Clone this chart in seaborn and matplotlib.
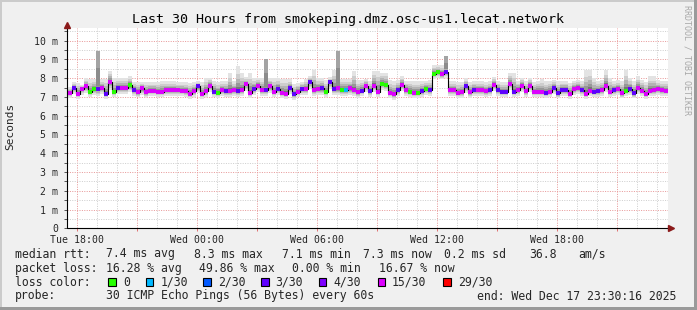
import numpy as np
import pandas as pd
import matplotlib
matplotlib.use("Agg")
import matplotlib.pyplot as plt
from matplotlib.patches import Rectangle
import seaborn as sns

# ---------------- data ----------------
title = "Last 30 Hours from smokeping.dmz.osc-us1.lecat.network"
start_hour = 17 + 30 / 60 + 16 / 3600          # Tue 17:30:16 (hours since Tue 00:00)
span_hours = 30
step_hours = 0.2                                # 12-minute consolidated steps
tick_hours = [18, 24, 30, 36, 42]
tick_labels = ["Tue 18:00", "Wed 00:00", "Wed 06:00", "Wed 12:00", "Wed 18:00"]
y_ticks = [0, 1, 2, 3, 4, 5, 6, 7, 8, 9, 10]
y_tick_labels = ["0", "1 m", "2 m", "3 m", "4 m", "5 m", "6 m", "7 m", "8 m", "9 m", "10 m"]

median_ms = [
    7.22, 7.48, 7.18, 7.40, 7.56, 7.27, 7.44, 7.42, 7.48, 7.18,
    7.80, 7.27, 7.47, 7.46, 7.47, 7.62, 7.38, 7.26, 7.46, 7.26,
    7.34, 7.33, 7.28, 7.27, 7.35, 7.35, 7.35, 7.35, 7.34, 7.30,
    7.18, 7.30, 7.57, 7.18, 7.30, 7.60, 7.28, 7.21, 7.36, 7.30,
    7.30, 7.36, 7.30, 7.36, 7.70, 7.21, 7.43, 7.60, 7.39, 7.39,
    7.57, 7.27, 7.43, 7.23, 7.18, 7.48, 7.14, 7.27, 7.43, 7.43,
    7.80, 7.36, 7.43, 7.46, 7.27, 7.80, 7.43, 7.46, 7.39, 7.39,
    7.46, 7.39, 7.25, 7.34, 7.60, 7.30, 7.60, 7.27, 7.71, 7.63,
    7.21, 7.14, 7.36, 7.66, 7.39, 7.29, 7.21, 7.21, 7.30, 7.43,
    7.39, 8.25, 8.32, 8.21, 8.34, 7.36, 7.36, 7.21, 7.25, 7.57,
    7.25, 7.39, 7.36, 7.36, 7.30, 7.36, 7.66, 7.39, 7.27, 7.27,
    7.71, 7.27, 7.39, 7.60, 7.30, 7.60, 7.27, 7.27, 7.27, 7.21,
    7.27, 7.48, 7.20, 7.39, 7.39, 7.18, 7.43, 7.48, 7.36, 7.18,
    7.34, 7.27, 7.30, 7.39, 7.60, 7.27, 7.36, 7.43, 7.20, 7.34,
    7.43, 7.20, 7.48, 7.34, 7.18, 7.34, 7.36, 7.43, 7.36, 7.34,
]

smoke_lo_ms = [
    6.95, 7.15, 6.90, 7.10, 7.20, 7.00, 7.10, 7.05, 7.15, 6.90,
    7.35, 7.00, 7.15, 7.15, 7.15, 7.25, 7.05, 7.00, 7.10, 7.00,
    7.05, 7.05, 7.00, 7.00, 7.05, 7.05, 7.05, 7.05, 7.05, 7.00,
    6.90, 7.00, 7.20, 6.90, 7.00, 7.25, 7.00, 6.95, 7.05, 7.00,
    7.00, 7.05, 7.00, 7.05, 7.30, 6.95, 7.10, 7.25, 7.05, 7.05,
    7.20, 7.00, 7.10, 6.95, 6.90, 7.15, 6.85, 7.00, 7.10, 7.10,
    7.40, 7.05, 7.10, 7.10, 7.00, 7.40, 7.10, 7.10, 7.05, 7.05,
    7.10, 7.05, 6.95, 7.05, 7.25, 7.00, 7.25, 7.00, 7.35, 7.30,
    6.95, 6.85, 7.05, 7.30, 7.05, 7.00, 6.95, 6.95, 7.00, 7.10,
    7.05, 7.95, 8.00, 7.95, 8.00, 7.05, 7.05, 6.95, 6.95, 7.20,
    6.95, 7.05, 7.05, 7.05, 7.00, 7.05, 7.30, 7.05, 7.00, 7.00,
    7.35, 7.00, 7.05, 7.25, 7.00, 7.25, 7.00, 7.00, 7.00, 6.95,
    7.00, 7.15, 6.95, 7.05, 7.05, 6.90, 7.10, 7.15, 7.05, 6.90,
    7.05, 7.00, 7.00, 7.05, 7.25, 7.00, 7.05, 7.10, 6.95, 7.05,
    7.10, 6.95, 7.15, 7.05, 6.90, 7.05, 7.05, 7.10, 7.05, 7.05,
]

smoke_hi_ms = [
    7.55, 7.80, 7.75, 7.65, 8.00, 7.95, 7.95, 7.95, 7.95, 7.95,
    8.40, 8.00, 8.00, 8.00, 8.00, 8.10, 7.80, 7.80, 7.80, 7.80,
    7.80, 7.80, 7.80, 7.85, 7.85, 7.85, 7.85, 7.80, 7.80, 7.80,
    7.75, 7.80, 7.85, 7.80, 8.00, 8.00, 7.85, 7.80, 7.85, 7.85,
    8.30, 7.85, 8.65, 8.30, 8.05, 8.30, 8.00, 8.00, 8.00, 8.00,
    8.00, 8.00, 8.00, 7.95, 7.95, 7.95, 7.70, 7.75, 7.80, 7.95,
    8.10, 8.45, 8.00, 8.00, 7.90, 8.05, 8.45, 7.95, 7.95, 7.95,
    7.95, 8.40, 7.90, 7.90, 7.95, 7.85, 8.40, 8.40, 8.30, 8.30,
    7.90, 7.85, 7.90, 8.10, 7.85, 7.85, 7.85, 7.85, 7.85, 7.85,
    7.90, 8.70, 8.70, 8.70, 8.60, 7.85, 7.85, 7.80, 7.80, 8.00,
    7.80, 7.85, 7.85, 7.85, 7.80, 7.85, 8.05, 7.85, 7.80, 7.80,
    8.30, 8.30, 7.85, 8.00, 7.85, 8.00, 7.80, 7.85, 7.95, 7.85,
    7.85, 7.90, 7.85, 7.85, 7.85, 7.75, 7.85, 7.90, 7.85, 8.45,
    8.45, 8.00, 7.85, 7.90, 8.45, 8.00, 7.85, 7.90, 7.85, 8.45,
    8.00, 7.85, 8.10, 7.90, 7.80, 8.10, 8.10, 7.90, 7.85, 7.85,
]

spike_steps = [7, 49, 67, 94]
spike_tops = [9.45, 9.00, 9.45, 9.20]

loss_codes = ("mpmmmggpmp" "mgpmmgpmmm" "mmmmmmmmmm" "mmpmmmpgmp" "mmpmmmpmmp"
              "mmpmmppmpm" "pmmpgppmgc" "mmmpmpmmgg" "mmpmmgmgpg" "pggmpmmmmp"
              "mpmmmpmppp" "mpmmmmmmmp" "mppppmmmpm" "mppmmmpmmg" "ppmmmmmmmm")

legend_labels = ["0", "1/30", "2/30", "3/30", "4/30", "15/30", "29/30"]
legend_colors = ["#26ff00", "#00b8ff", "#0059ff", "#5e00ff", "#7e00ff", "#dd00ff", "#ff0000"]
code_color = {"g": "#26ff00", "c": "#00b8ff", "p": "#5e00ff", "m": "#dd00ff"}

line_rtt = [("median rtt:", 16), ("7.4 ms avg", 107), ("8.3 ms max", 195), ("7.1 ms min", 283),
            ("7.3 ms now", 364), ("0.2 ms sd", 445), ("36.8", 530), ("am/s", 579)]
line_loss = [("packet loss:", 16), ("16.28 % avg", 107), ("49.86 % max", 200),
             ("0.00 % min", 293), ("16.67 % now", 380)]
line_probe = [("probe:", 16), ("30 ICMP Echo Pings (56 Bytes) every 60s", 107),
              ("end: Wed Dec 17 23:30:16 2025", 478)]
legend_box_x = [108.3, 145.7, 203.3, 261.2, 318.8, 377.5, 443.3]

# ---------------- figure ----------------
sns.set_style("white")
plt.rcParams["font.family"] = ["DejaVu Sans Mono"]

W, H = 697, 310
fig = plt.figure(figsize=(W / 100, H / 100), dpi=100, facecolor="#f0f0f0")

def fx(px):
    return px / W

def fy(py):
    return 1 - py / H

# 3D frame
for (x0, y0, w, h, c) in [(0, 0, 2, H, "#cbcbcb"), (0, 0, W, 2, "#cbcbcb"),
                          (W - 3, 0, 3, H, "#9a9a9a"), (0, H - 3, W, 3, "#9a9a9a")]:
    fig.patches.append(Rectangle((fx(x0), fy(y0 + h)), w / W, h / H,
                                 transform=fig.transFigure, color=c, lw=0, zorder=0))

px_per_hour = 20.0
px_per_ms = 18.76
ax_left, ax_bottom_px, ax_top_px, ax_right = 66.7, 228.3, 28.3, 668.2
ax = fig.add_axes([fx(ax_left), fy(ax_bottom_px), (ax_right - ax_left) / W,
                   (ax_bottom_px - ax_top_px) / H])
ax.set_facecolor("white")
x_min = start_hour
x_max = start_hour + (ax_right - ax_left) / px_per_hour
y_max = (ax_bottom_px - ax_top_px) / px_per_ms
ax.set_xlim(x_min, x_max)
ax.set_ylim(0, y_max)
for s in ax.spines.values():
    s.set_visible(False)

# grid
dots = (0, (1, 1.4))
for h in range(18, 48):
    ax.axvline(h, color="#e89a9a" if h % 3 == 0 else "#cfcfcf", lw=0.72, ls=dots, zorder=0.5)
for v in np.arange(0.5, 10.6, 0.5):
    ax.axhline(v, color="#e89a9a" if float(v).is_integer() else "#cfcfcf", lw=0.72, ls=dots, zorder=0.5)

# data frame
n = len(median_ms)
edges = start_hour + 0.05 + step_hours * np.arange(n + 1)
edges[0] = start_hour
df = pd.DataFrame({"t": edges[:-1], "t_end": edges[1:], "median": median_ms,
                   "lo": smoke_lo_ms, "hi": smoke_hi_ms, "loss": list(loss_codes)})

med_ext = np.append(df["median"].values, df["median"].values[-1])
lo_ext = np.append(df["lo"].values, df["lo"].values[-1])
hi_ext = np.append(df["hi"].values, df["hi"].values[-1])

# smoke layers (outer light -> inner dark)
layers = [(1.0, "#e3e3e3"), (0.7, "#cdcdcd"), (0.5, "#b4b4b4"), (0.32, "#979797"), (0.16, "#767676")]
for f, c in layers:
    ax.fill_between(edges, med_ext - f * (med_ext - lo_ext), med_ext + f * (hi_ext - med_ext),
                    step="post", color=c, lw=0, zorder=1)

# darker spikes
for st, top in zip(spike_steps, spike_tops):
    ax.fill_between([edges[st], edges[st + 1]], [median_ms[st] + 0.15] * 2, [top] * 2,
                    color="#a3a3a3", lw=0, zorder=1.1)
    ax.fill_between([edges[st], edges[st + 1]], [median_ms[st] + 0.15] * 2,
                    [median_ms[st] + 0.55 * (top - median_ms[st])] * 2,
                    color="#8c8c8c", lw=0, zorder=1.2)

# median step line
line_df = pd.DataFrame({"t": edges, "median": med_ext})
sns.lineplot(data=line_df, x="t", y="median", drawstyle="steps-post", color="black",
             lw=0.8, estimator=None, sort=False, ax=ax, zorder=3)
# loss-coloured median segments
ax.hlines(df["median"], df["t"], df["t_end"], colors=[code_color[c] for c in df["loss"]],
          lw=2.8, zorder=4, capstyle="butt")

ax.set_xlabel("")
ax.set_ylabel("")

# axes lines with arrows
arrow_c = "#8b1a1a"
ax.plot([x_min, x_min + (670 - ax_left) / px_per_hour], [0, 0], color="black", lw=0.8,
        clip_on=False, zorder=5)
ax.plot([x_min, x_min], [0, (ax_bottom_px - 26) / px_per_ms], color="black", lw=0.8,
        clip_on=False, zorder=5)
ax.plot([x_min + (671 - ax_left) / px_per_hour], [0], marker=">", ms=4, color=arrow_c,
        clip_on=False, zorder=6, mec=arrow_c)
ax.plot([x_min], [(ax_bottom_px - 25) / px_per_ms], marker="^", ms=4, color=arrow_c,
        clip_on=False, zorder=6, mec=arrow_c)

# ticks
ax.set_xticks(tick_hours)
ax.set_xticklabels(tick_labels)
ax.set_xticks(range(18, 48, 3), minor=True)
ax.set_yticks(y_ticks)
ax.set_yticklabels(y_tick_labels)
ax.set_yticks(np.arange(0.5, 10.6, 1.0), minor=True)
ax.tick_params(axis="x", which="both", length=2, width=0.7, color="#e07070", pad=3.0,
               labelsize=7.1, direction="out", bottom=True)
ax.tick_params(axis="y", which="both", length=2, width=0.7, color="#555555", pad=4.2,
               labelsize=7.1, direction="out", left=True)

# texts
fig.text(fx(347.5), fy(20), title, ha="center", va="center", fontsize=9.6, color="black")
fig.text(fx(10.5), fy(126), "Seconds", rotation=90, ha="center", va="center", fontsize=8.0)
fig.text(fx(687.5), fy(60), "RRDTOOL / TOBI OETIKER", rotation=270, ha="center", va="center",
         fontsize=6.0, color="#a8a8a8")

fs = 8.3
for txt, x in line_rtt:
    fig.text(fx(x - 0.8), fy(254), txt, ha="left", va="center", fontsize=fs)
for txt, x in line_loss:
    fig.text(fx(x - 0.8), fy(268.3), txt, ha="left", va="center", fontsize=fs)
fig.text(fx(16 - 0.8), fy(282.3), "loss color:", ha="left", va="center", fontsize=fs)
for bx, lab, col in zip(legend_box_x, legend_labels, legend_colors):
    fig.patches.append(Rectangle((fx(bx), fy(286)), 7.4 / W, 7.6 / H, transform=fig.transFigure,
                                 facecolor=col, edgecolor="black", lw=0.8, zorder=3))
    fig.text(fx(bx + 14.5), fy(282.3), lab, ha="left", va="center", fontsize=fs)
for txt, x in line_probe:
    fig.text(fx(x - 0.8), fy(296), txt, ha="left", va="center", fontsize=fs)

fig.savefig("out.png", dpi=100, facecolor=fig.get_facecolor())
